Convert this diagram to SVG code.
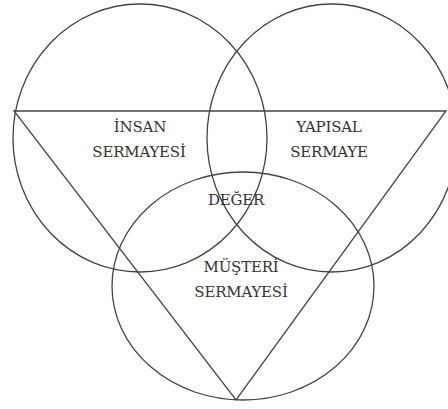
<svg xmlns="http://www.w3.org/2000/svg" width="448" height="409" viewBox="0 0 448 409">
<style>
.c{fill:none;stroke:#444;stroke-width:1.3}
.t{font-family:"DejaVu Serif",serif;font-size:15px;fill:#333;text-anchor:middle;letter-spacing:-0.2px}
</style>
<rect width="448" height="409" fill="#fff"/>
<g id="connectors">
<polygon class="c" points="14,111 446,111 236,400"/>
</g>
<g id="insan">
<ellipse class="c" cx="140" cy="138" rx="127" ry="134"/>
<text class="t" x="140" y="132">İNSAN</text>
<text class="t" x="139" y="157">SERMAYESİ</text>
</g>
<g id="yapisal">
<ellipse class="c" cx="332" cy="138" rx="125" ry="134"/>
<text class="t" x="329" y="132">YAPISAL</text>
<text class="t" x="329" y="157">SERMAYE</text>
</g>
<g id="musteri">
<ellipse class="c" cx="243" cy="286" rx="131" ry="114"/>
<text class="t" x="241" y="272">MÜŞTERİ</text>
<text class="t" x="241" y="297">SERMAYESİ</text>
</g>
<g id="deger">
<text class="t" x="236" y="205">DEĞER</text>
</g>
</svg>
